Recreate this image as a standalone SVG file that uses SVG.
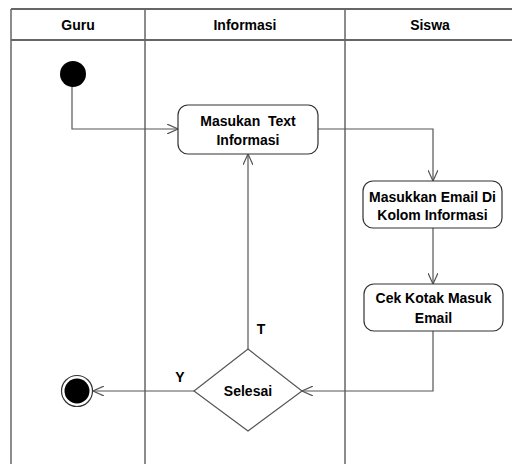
<svg xmlns="http://www.w3.org/2000/svg" width="512" height="464" viewBox="0 0 512 464">
<style>
.lane{stroke:#333;stroke-width:1.3;fill:none}
.vl{stroke:#666;stroke-width:1.5;fill:none}
.box{fill:#fff;stroke:#333;stroke-width:1.2}
.con{stroke:#555;stroke-width:1.2;fill:none}
text{font-family:"Liberation Sans",Arial,sans-serif;font-weight:bold;font-size:14px;fill:#000;text-anchor:middle;white-space:pre}
</style>
<defs>
<marker id="arr" markerWidth="12" markerHeight="10" refX="11" refY="5" orient="auto" markerUnits="userSpaceOnUse">
<path d="M0,0 L11,5 L0,10" fill="none" stroke="#555" stroke-width="1.2"/>
</marker>
</defs>
<rect width="512" height="464" fill="#fff"/>
<g id="lanes">
<line class="lane" x1="11" y1="9" x2="512" y2="9"/>
<line class="lane" x1="11" y1="40" x2="512" y2="40"/>
<line class="vl" x1="11" y1="9" x2="11" y2="464"/>
<line class="vl" x1="145" y1="9" x2="145" y2="464"/>
<line class="vl" x1="345" y1="9" x2="345" y2="464"/>
<text x="78" y="30">Guru</text>
<text x="245" y="30">Informasi</text>
<text x="430" y="30">Siswa</text>
</g>
<g id="connectors">
<polyline class="con" points="72,86 72,129 178,129" marker-end="url(#arr)"/>
<polyline class="con" points="318,129 433,129 433,181" marker-end="url(#arr)"/>
<line class="con" x1="433" y1="228" x2="433" y2="284" marker-end="url(#arr)"/>
<polyline class="con" points="433,331 433,391 302,391" marker-end="url(#arr)"/>
<line class="con" x1="194" y1="391" x2="93" y2="391" marker-end="url(#arr)"/>
<line class="con" x1="248" y1="349" x2="248" y2="154" marker-end="url(#arr)"/>
<text x="180" y="382">Y</text>
<text x="261" y="334">T</text>
</g>
<g id="start"><circle cx="73" cy="74" r="13" fill="#000"/></g>
<g id="box1">
<rect class="box" x="178" y="105" width="140" height="49" rx="10"/>
<text x="248" y="126">Masukan  Text</text>
<text x="248" y="145">Informasi</text>
</g>
<g id="box2">
<rect class="box" x="363" y="181" width="139" height="47" rx="10"/>
<text x="432.5" y="202">Masukkan Email Di</text>
<text x="432.5" y="220">Kolom Informasi</text>
</g>
<g id="box3">
<rect class="box" x="364" y="284" width="139" height="47" rx="10"/>
<text x="433.5" y="303">Cek Kotak Masuk</text>
<text x="433.5" y="323">Email</text>
</g>
<g id="decision">
<polygon points="248,349 302,391 248,431 194,391" fill="#fff" stroke="#555" stroke-width="1.2"/>
<text x="248" y="396">Selesai</text>
</g>
<g id="end">
<circle cx="77" cy="391" r="15.5" fill="#fff" stroke="#333" stroke-width="1.2"/>
<circle cx="77" cy="391" r="12.5" fill="#000"/>
</g>
</svg>
